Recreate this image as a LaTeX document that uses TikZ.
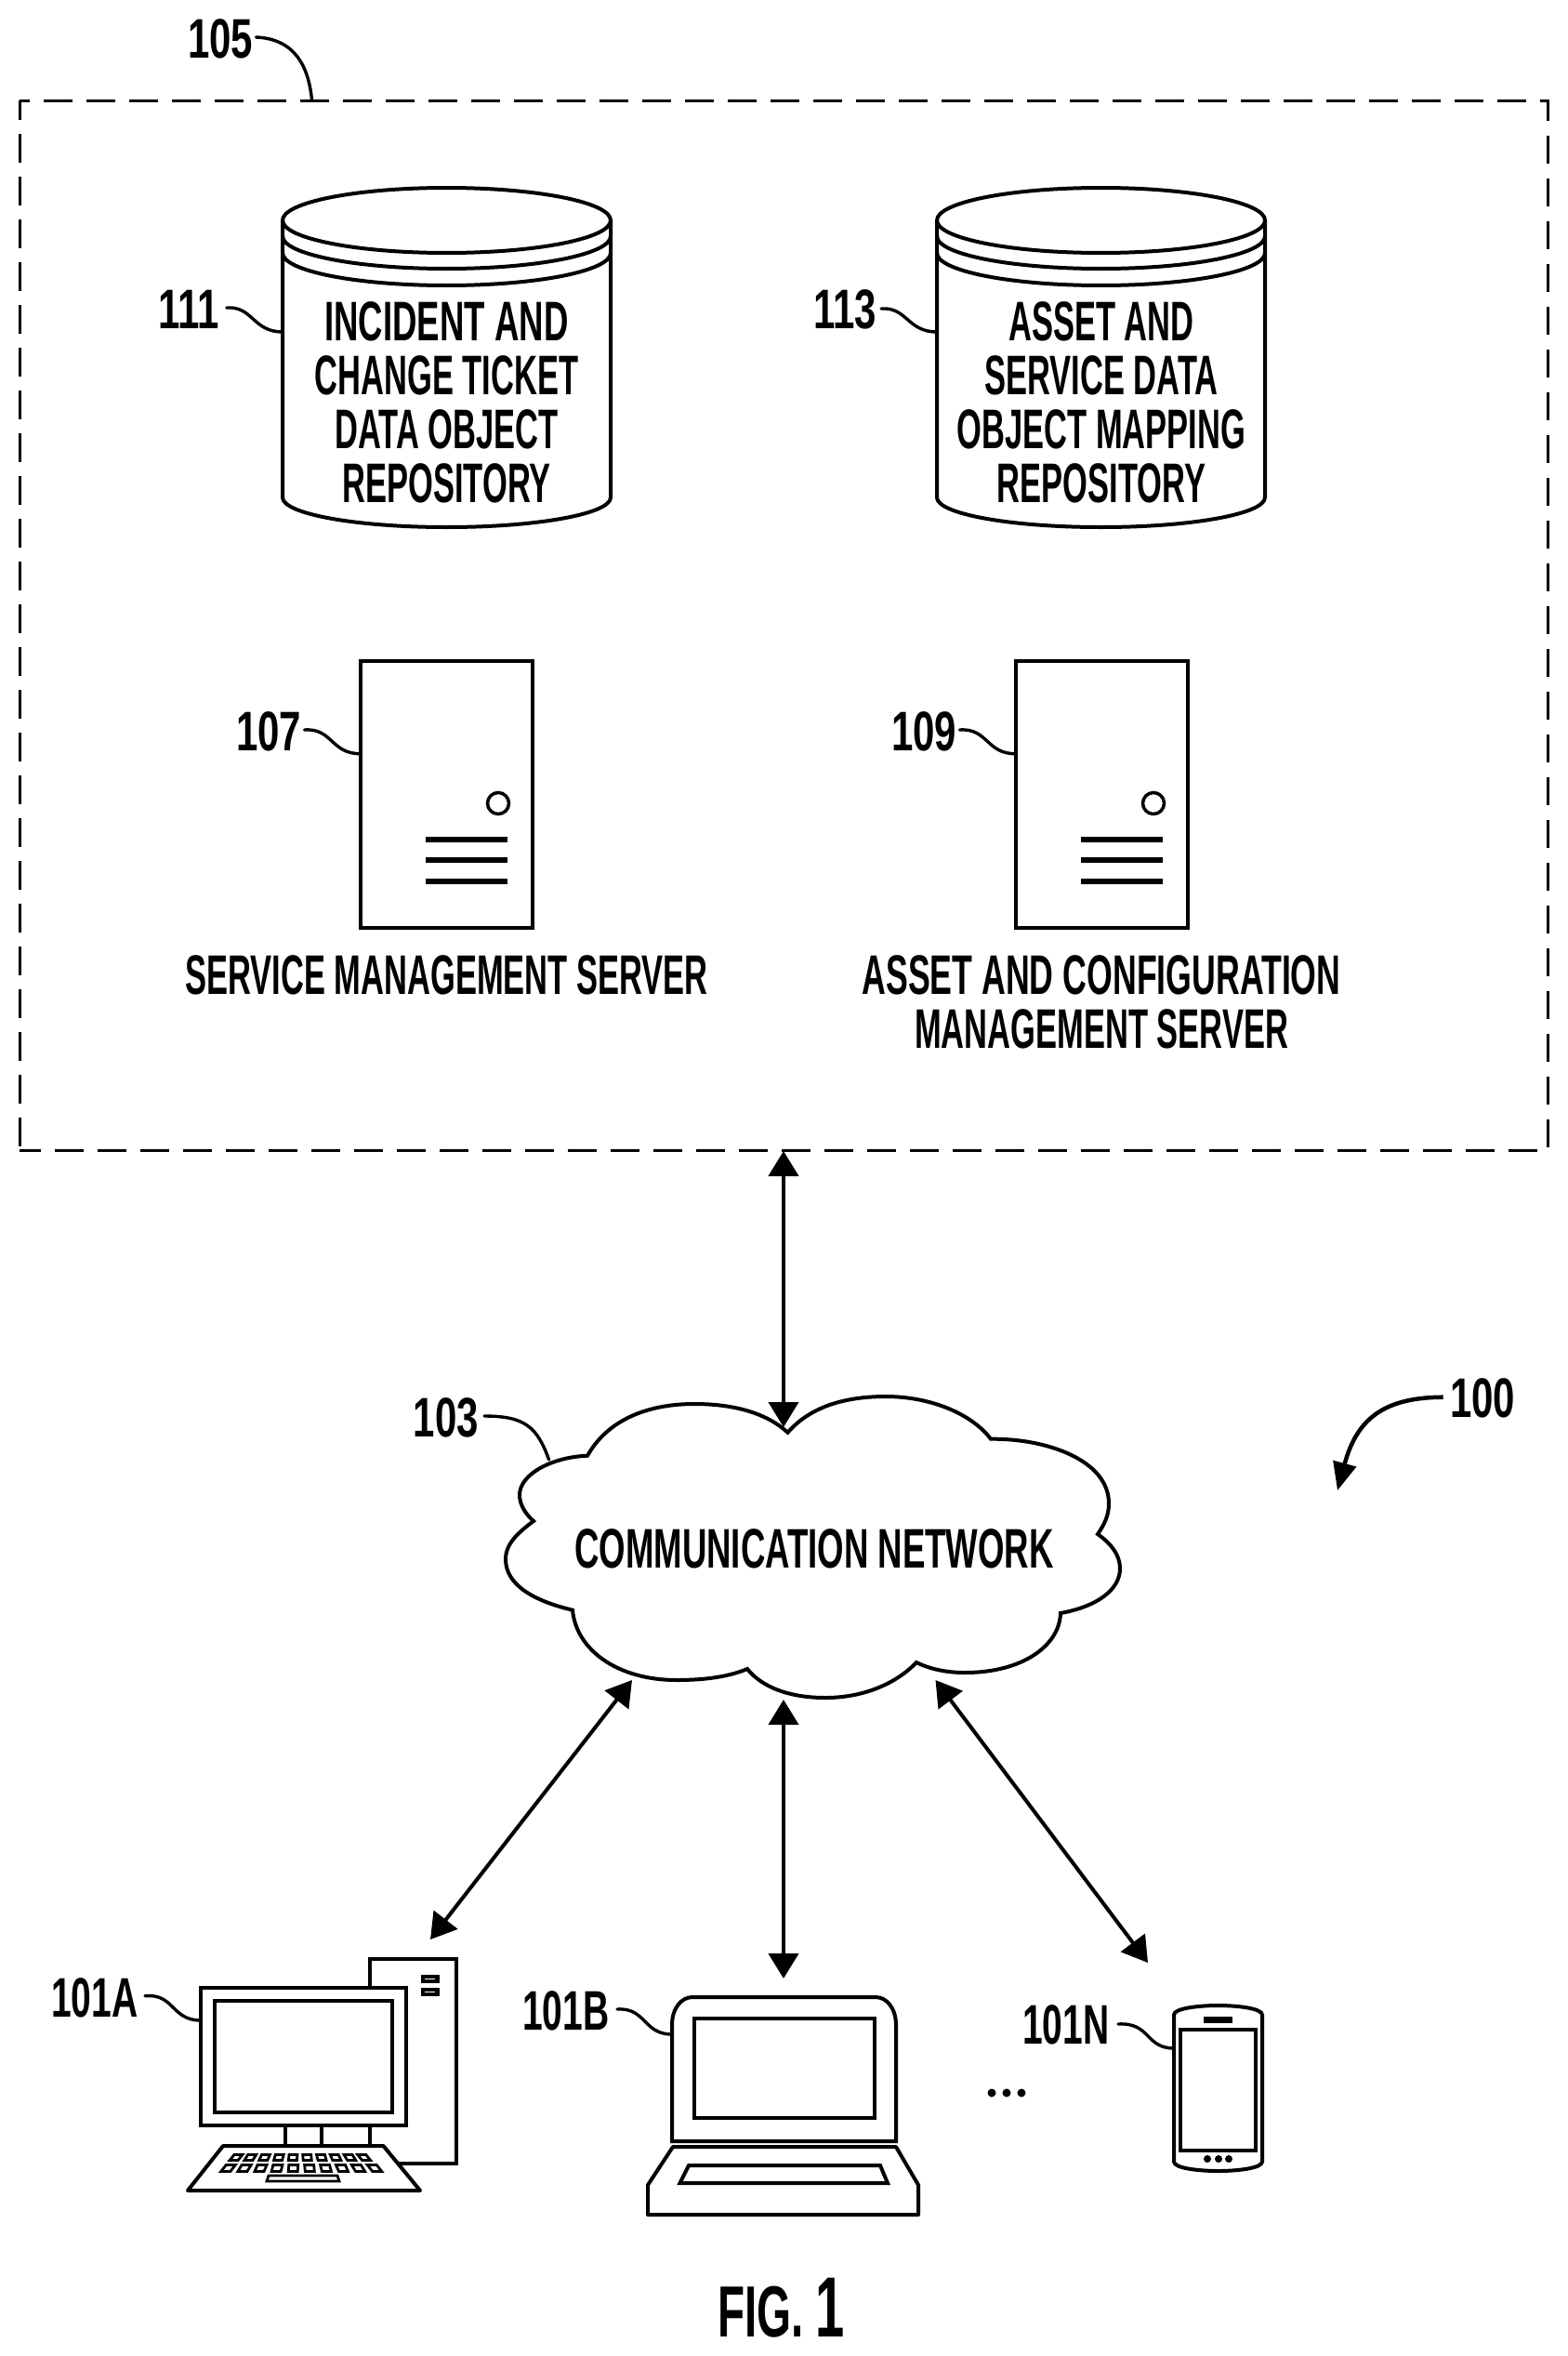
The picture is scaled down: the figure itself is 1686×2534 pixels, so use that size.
\documentclass[tikz,border=0pt]{standalone}
\usepackage{fontspec}
\usetikzlibrary{arrows.meta}
\newfontfamily\lblfont[FakeStretch=0.61]{Liberation Sans}
\newfontfamily\lblnarrow[FakeStretch=0.575]{Liberation Sans}
\newfontfamily\lblmid[FakeStretch=0.595]{Liberation Sans}
\newfontfamily\numfont[FakeStretch=0.70]{Liberation Sans}
\newfontfamily\numfontb[FakeStretch=0.65]{Liberation Sans}
\tikzset{
  x=1pt,y=-1pt,
  ln/.style={line width=4pt,line join=miter},
  dbl/.style={line width=4pt,{Triangle[length=27pt,width=32pt]}-{Triangle[length=27pt,width=32pt]}},
  leader/.style={line width=3.4pt,line cap=round},
  num/.style={font=\numfont\bfseries\fontsize{60}{60}\selectfont,inner sep=0pt,anchor=base west},
  numb/.style={font=\numfontb\bfseries\fontsize{60}{60}\selectfont,inner sep=0pt,anchor=base west},
  txt/.style={font=\lblnarrow\bfseries\fontsize{60}{58}\selectfont,inner sep=0pt,align=center},
  txtb/.style={font=\lblnarrow\bfseries\fontsize{60}{58}\selectfont,inner sep=0pt,anchor=base},
  bar/.style={line width=6pt},
  keycap/.style={line width=2.8pt,line join=miter},
  boxdash/.style={line width=3.2pt,dash pattern=on 30.5pt off 15.5pt},
}
\begin{document}
\begin{tikzpicture}
\useasboundingbox (0,0) rectangle (1686,2534);
\fill[white] (0,0) rectangle (1686,2534);

% outer dashed box
\node[inner sep=0pt,minimum width=1644pt,minimum height=1129pt] (box) at (843.5,673) {};
\draw[boxdash,dash phase=20pt] (box.north west) -- (box.north east) -- (box.south east) -- (box.south west);
\draw[boxdash,dash phase=10pt] (box.north west) -- (box.south west);
\node[num] (n105) at (202,63) {105};
\coordinate (l105a) at (275.5,40);
\coordinate (l105b) at (335.6,108);
\draw[leader] (l105a) .. controls (318,42) and (332,72) .. (l105b);

% cylinders
\foreach \cx/\nm in {480.5/a,1184.5/b}{
  \draw[ln] (\cx-176.5,237) -- (\cx-176.5,535) arc[start angle=180,end angle=0,x radius=176.5,y radius=32] -- (\cx+176.5,237);
  \draw[ln] (\cx,237) ellipse[x radius=176.5,y radius=35];
  \draw[ln] (\cx-176.5,254) arc[start angle=180,end angle=0,x radius=176.5,y radius=35];
  \draw[ln] (\cx-176.5,272) arc[start angle=180,end angle=0,x radius=176.5,y radius=35];
}
\node[txt] (t111) at (480.5,433) {{\lblfont\bfseries INCIDENT AND}\\CHANGE TICKET\\DATA OBJECT\\REPOSITORY};
\node[txt] (t113) at (1185,433) {ASSET AND\\SERVICE DATA\\OBJECT MAPPING\\REPOSITORY};
\node[num] (n111) at (170,353) {111};
\node[num] (n113) at (875,353) {113};
\coordinate (l111a) at (243.8,331); \coordinate (l111b) at (304,357);
\coordinate (l113a) at (948,332); \coordinate (l113b) at (1008,357);
\draw[leader] (l111a) .. controls (272,329) and (272,357) .. (l111b);
\draw[leader] (l113a) .. controls (976,330) and (976,357) .. (l113b);

% servers
\foreach \dx in {0,705}{
  \begin{scope}[xshift=\dx pt]
  \draw[ln] (388,711) rectangle (573,998);
  \draw[line width=3.5pt] (536,864) circle[radius=11.5];
  \draw[bar] (458,903) -- (545.5,903);
  \draw[bar] (458,925) -- (545.5,925);
  \draw[bar] (458,948) -- (545.5,948);
  \end{scope}
}
\node[num] (n107) at (254,807) {107};
\node[num] (n109) at (959,807) {109};
\coordinate (l107a) at (327.5,785); \coordinate (l107b) at (388,810.7);
\coordinate (l109a) at (1032.5,785); \coordinate (l109b) at (1093,810.7);
\draw[leader] (l107a) .. controls (358,783) and (356,811) .. (l107b);
\draw[leader] (l109a) .. controls (1063,783) and (1061,811) .. (l109b);
\node[txtb] (tsm) at (480.5,1069) {SERVICE MANAGEMENT SERVER};
\node[txt] (tac) at (1185,1078) {{\lblmid\bfseries ASSET AND CONFIGURATION}\\MANAGEMENT SERVER};

% cloud
\draw[ln,line join=miter]
 (632,1565.7) .. controls (655,1525) and (700,1510) .. (747,1510)
 .. controls (790,1510) and (825,1520) .. (847.5,1540.7)
 .. controls (870,1515) and (905,1502) .. (953,1502)
 .. controls (1000,1502) and (1045,1520) .. (1066,1547.7)
 .. controls (1125,1547) and (1193,1570) .. (1193,1617)
 .. controls (1193,1630) and (1188,1640) .. (1181,1650)
 .. controls (1195,1660) and (1205,1672) .. (1205,1687)
 .. controls (1205,1710) and (1180,1728) .. (1141,1735)
 .. controls (1140,1770) and (1100,1799) .. (1038,1799)
 .. controls (1018,1799) and (1000,1795) .. (986,1788)
 .. controls (965,1810) and (930,1826) .. (888,1826)
 .. controls (850,1826) and (820,1815) .. (804,1795)
 .. controls (785,1803) and (760,1807) .. (728,1807)
 .. controls (665,1807) and (620,1775) .. (616,1731.7)
 .. controls (575,1722) and (544,1705) .. (544,1677)
 .. controls (544,1660) and (558,1648) .. (574,1636)
 .. controls (565,1628) and (559,1618) .. (559,1608)
 .. controls (559,1585) and (595,1567) .. (632,1565.7) -- cycle;
\node[txtb,font=\lblfont\bfseries\fontsize{60}{58}\selectfont] (tcn) at (876,1686) {COMMUNICATION NETWORK};
\node[num,anchor=base east] (n103) at (515,1545) {103};
\coordinate (l103a) at (521,1523); \coordinate (l103b) at (590.6,1570);
\draw[leader] (l103a) .. controls (565,1523) and (578,1535) .. (l103b);

% connector ends
\coordinate (u0) at (843,1238);
\coordinate (u1) at (843,1535);
\coordinate (c1) at (680,1807);
\coordinate (c2) at (843,1828);
\coordinate (c3) at (1006.5,1807);
\coordinate (d1) at (463,2086);
\coordinate (d2) at (843,2128);
\coordinate (d3) at (1235,2111);
\draw[dbl] (u0) -- (u1);
\draw[dbl] (c1) -- (d1);
\draw[dbl] (c2) -- (d2);
\draw[dbl] (c3) -- (d3);

% 100
\node[num] (n100) at (1560,1524) {100};
\coordinate (l100a) at (1552.7,1502.7);
\coordinate (l100b) at (1439,1603);
\draw[line width=4.5pt,-{Triangle[length=30pt,width=25pt]}] (l100a) .. controls (1490,1503) and (1460,1525) .. (l100b);

% desktop
\draw[ln] (398,2107) rectangle (491,2327);
\fill (452.5,2124) rectangle (473,2133);
\fill (452.5,2138) rectangle (473,2147);
\draw[white,line width=1.5pt] (457,2128.5) -- (468,2128.5);
\draw[white,line width=1.5pt] (457,2142.5) -- (468,2142.5);
\draw[ln,fill=white] (216,2138) rectangle (436.5,2286);
\draw[ln] (231,2152) rectangle (421.5,2272);
\draw[ln] (307,2286) -- (307,2308);
\draw[ln] (346,2286) -- (346,2308);
\draw[ln] (398,2286) -- (398,2308);
\draw[ln,fill=white,line join=round] (240,2308) -- (412.5,2308) -- (452,2356) -- (202,2356) -- cycle;
\foreach \i in {0,...,9}{
  \pgfmathsetmacro{\xa}{254+\i*15.3}
  \pgfmathsetmacro{\sa}{(\xa-323)*0.035}
  \draw[keycap] (\xa-4.5-\sa,2317.5) -- (\xa+4.5-\sa,2317.5) -- (\xa+4.5+\sa,2323.5) -- (\xa-4.5+\sa,2323.5) -- cycle;
  \pgfmathsetmacro{\xb}{245.5+\i*17.5}
  \pgfmathsetmacro{\sb}{(\xb-324)*0.035}
  \draw[keycap] (\xb-5-\sb,2328.5) -- (\xb+5-\sb,2328.5) -- (\xb+5+\sb,2335.5) -- (\xb-5+\sb,2335.5) -- cycle;
}
\draw[keycap] (289,2340) -- (363,2340) -- (365,2346) -- (287,2346) -- cycle;
\node[numb] (n101a) at (55,2169) {101A};
\coordinate (l101a) at (156,2146.7); \coordinate (l101b) at (216,2173);
\draw[leader] (l101a) .. controls (188,2144) and (184,2173) .. (l101b);

% laptop
\draw[ln] (723,2303) -- (723,2178) .. controls (723,2160) and (733,2148) .. (745,2148) -- (942,2148) .. controls (954,2148) and (964,2160) .. (964,2178) -- (964,2303) -- cycle;
\draw[ln] (747,2171) rectangle (941,2278);
\draw[ln,line join=round] (724,2309) -- (964,2309) -- (988,2350) -- (988,2382) -- (697,2382) -- (697,2350) -- cycle;
\draw[ln] (741,2329) -- (947,2329) -- (955,2348) -- (731.5,2348) -- cycle;
\node[numb] (n101b) at (562,2183) {101B};
\coordinate (l101c) at (664,2161); \coordinate (l101d) at (723,2188);
\draw[leader] (l101c) .. controls (695,2159) and (692,2188) .. (l101d);

% ellipsis
\fill (1067,2251) circle[radius=4.5];
\fill (1083,2251) circle[radius=4.5];
\fill (1099,2251) circle[radius=4.5];

% phone
\draw[ln] (1263,2167) .. controls (1263,2160) and (1290,2157) .. (1310.5,2157) .. controls (1331,2157) and (1358,2160) .. (1358,2167) -- (1358,2325) .. controls (1358,2332) and (1331,2335) .. (1310.5,2335) .. controls (1290,2335) and (1263,2332) .. (1263,2325) -- cycle;
\draw[ln] (1270,2183) rectangle (1351,2313);
\fill (1295,2169) rectangle (1326,2176);
\fill (1299,2322) circle[radius=4];
\fill (1311,2322) circle[radius=4];
\fill (1322,2322) circle[radius=4];
\node[numb] (n101n) at (1100,2198) {101N};
\coordinate (l101e) at (1203,2177); \coordinate (l101f) at (1263,2203);
\draw[leader] (l101e) .. controls (1238,2175) and (1232,2203) .. (l101f);

% caption
\node[font=\lblfont\bfseries\fontsize{78}{78}\selectfont,inner sep=0pt,anchor=base west] (fig) at (772,2513) {FIG. {\fontsize{92}{92}\selectfont 1}};
\end{tikzpicture}
\end{document}
